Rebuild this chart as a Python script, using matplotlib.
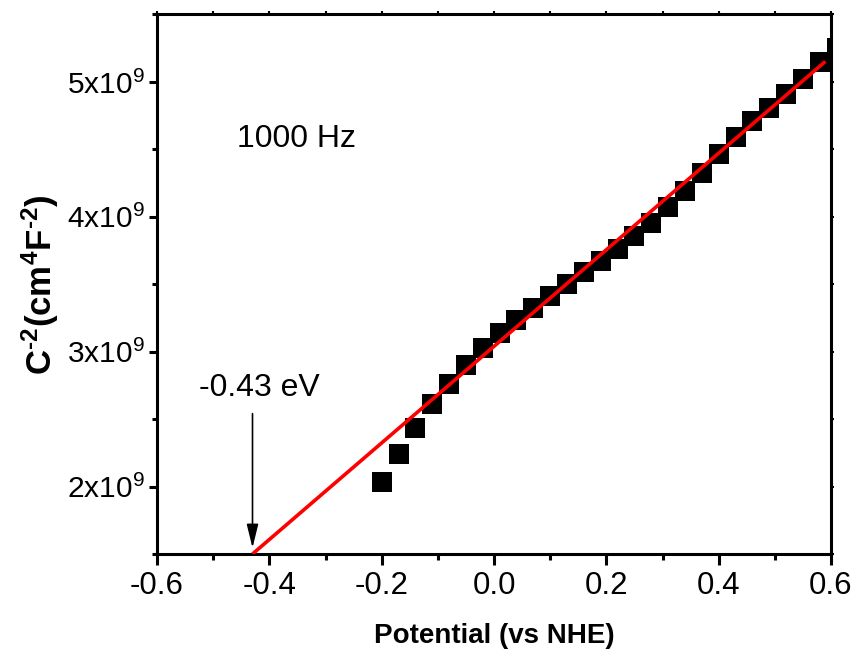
import matplotlib
matplotlib.use("Agg")
import matplotlib.pyplot as plt
from matplotlib.ticker import MultipleLocator, FuncFormatter

plt.rcParams['font.family'] = ['Liberation Sans', 'DejaVu Sans']
plt.rcParams['mathtext.fontset'] = 'custom'
plt.rcParams['mathtext.rm'] = 'Liberation Sans'
plt.rcParams['mathtext.it'] = 'Liberation Sans:italic'
plt.rcParams['mathtext.bf'] = 'Liberation Sans:bold'

# Mott-Schottky data at 1000 Hz
potential = [-0.20, -0.17, -0.14, -0.11, -0.08, -0.05, -0.02, 0.01, 0.04, 0.07,
             0.10, 0.13, 0.16, 0.19, 0.22, 0.25, 0.28, 0.31, 0.34, 0.37,
             0.40, 0.43, 0.46, 0.49, 0.52, 0.55, 0.58, 0.61]
inv_c2 = [2.037, 2.244, 2.436, 2.613, 2.761, 2.902, 3.027, 3.138, 3.234, 3.323,
          3.412, 3.501, 3.590, 3.671, 3.760, 3.856, 3.952, 4.071, 4.189, 4.322,
          4.463, 4.589, 4.707, 4.803, 4.907, 5.025, 5.151, 5.255]
inv_c2 = [v * 1e9 for v in inv_c2]

# Linear fit endpoints
fit_x = [-0.43, 0.59]
fit_y = [1.50e9, 5.152e9]

flatband = -0.43

fig = plt.figure(figsize=(8.59, 6.61), dpi=100)
ax = fig.add_axes([0.1828, 0.1619, 0.7846, 0.8162])

ax.plot(potential, inv_c2, linestyle='none', marker='s', markersize=14,
        color='black', markeredgewidth=0, zorder=3)
ax.plot(fit_x, fit_y, color='red', linewidth=2.6, zorder=4, solid_capstyle='butt')

ax.set_xlim(-0.6, 0.6)
ax.set_ylim(1.5e9, 5.5e9)

ax.xaxis.set_major_locator(MultipleLocator(0.2))
ax.xaxis.set_minor_locator(MultipleLocator(0.1))
ax.yaxis.set_major_locator(MultipleLocator(1e9))
ax.yaxis.set_minor_locator(MultipleLocator(0.5e9))
ax.xaxis.set_major_formatter(FuncFormatter(lambda v, p: f"{v:.1f}".replace("-0.0", "0.0")))
ax.yaxis.set_major_formatter(FuncFormatter(lambda v, p: f"{v/1e9:.0f}x10$^{{9}}$"))

ax.tick_params(axis='x', which='major', direction='out', length=8, width=2.2,
               labelsize=22.5, pad=4)
ax.tick_params(axis='x', which='minor', direction='out', length=4.5, width=2.2)
ax.tick_params(axis='y', which='major', direction='out', length=6, width=2.2,
               labelsize=21.5, pad=3)
ax.tick_params(axis='y', which='minor', direction='out', length=3.5, width=2.2)

for side in ['left', 'bottom', 'top', 'right']:
    ax.spines[side].set_linewidth(2.2)

# Short mirror ticks on top and right
top = ax.secondary_xaxis('top')
top.xaxis.set_major_locator(MultipleLocator(0.1))
top.tick_params(direction='out', length=2, width=1.5, labeltop=False)
top.spines['top'].set_visible(False)
right = ax.secondary_yaxis('right')
right.yaxis.set_major_locator(MultipleLocator(0.5e9))
right.tick_params(direction='out', length=2, width=1.5, labelright=False)
right.spines['right'].set_visible(False)

ax.set_xlabel('Potential (vs NHE)', fontsize=20, fontweight='bold', labelpad=16)
ax.set_ylabel('$\\mathbf{C^{\u20102}(cm^{4}F^{\u20102})}$', fontsize=25, labelpad=4)

ax.text(-0.351, 4.578e9, '1000 Hz', fontsize=23, ha='center', va='center')
ax.text(-0.4175, 2.73e9, '-0.43 eV', fontsize=23, ha='center', va='center')
ax.annotate('', xy=(flatband, 1.545e9), xytext=(flatband, 2.54e9),
            arrowprops=dict(arrowstyle='-|>,head_length=0.9,head_width=0.22',
                            color='black', linewidth=1.2, mutation_scale=16,
                            shrinkA=0, shrinkB=0))

fig.savefig('out.png', dpi=100)
